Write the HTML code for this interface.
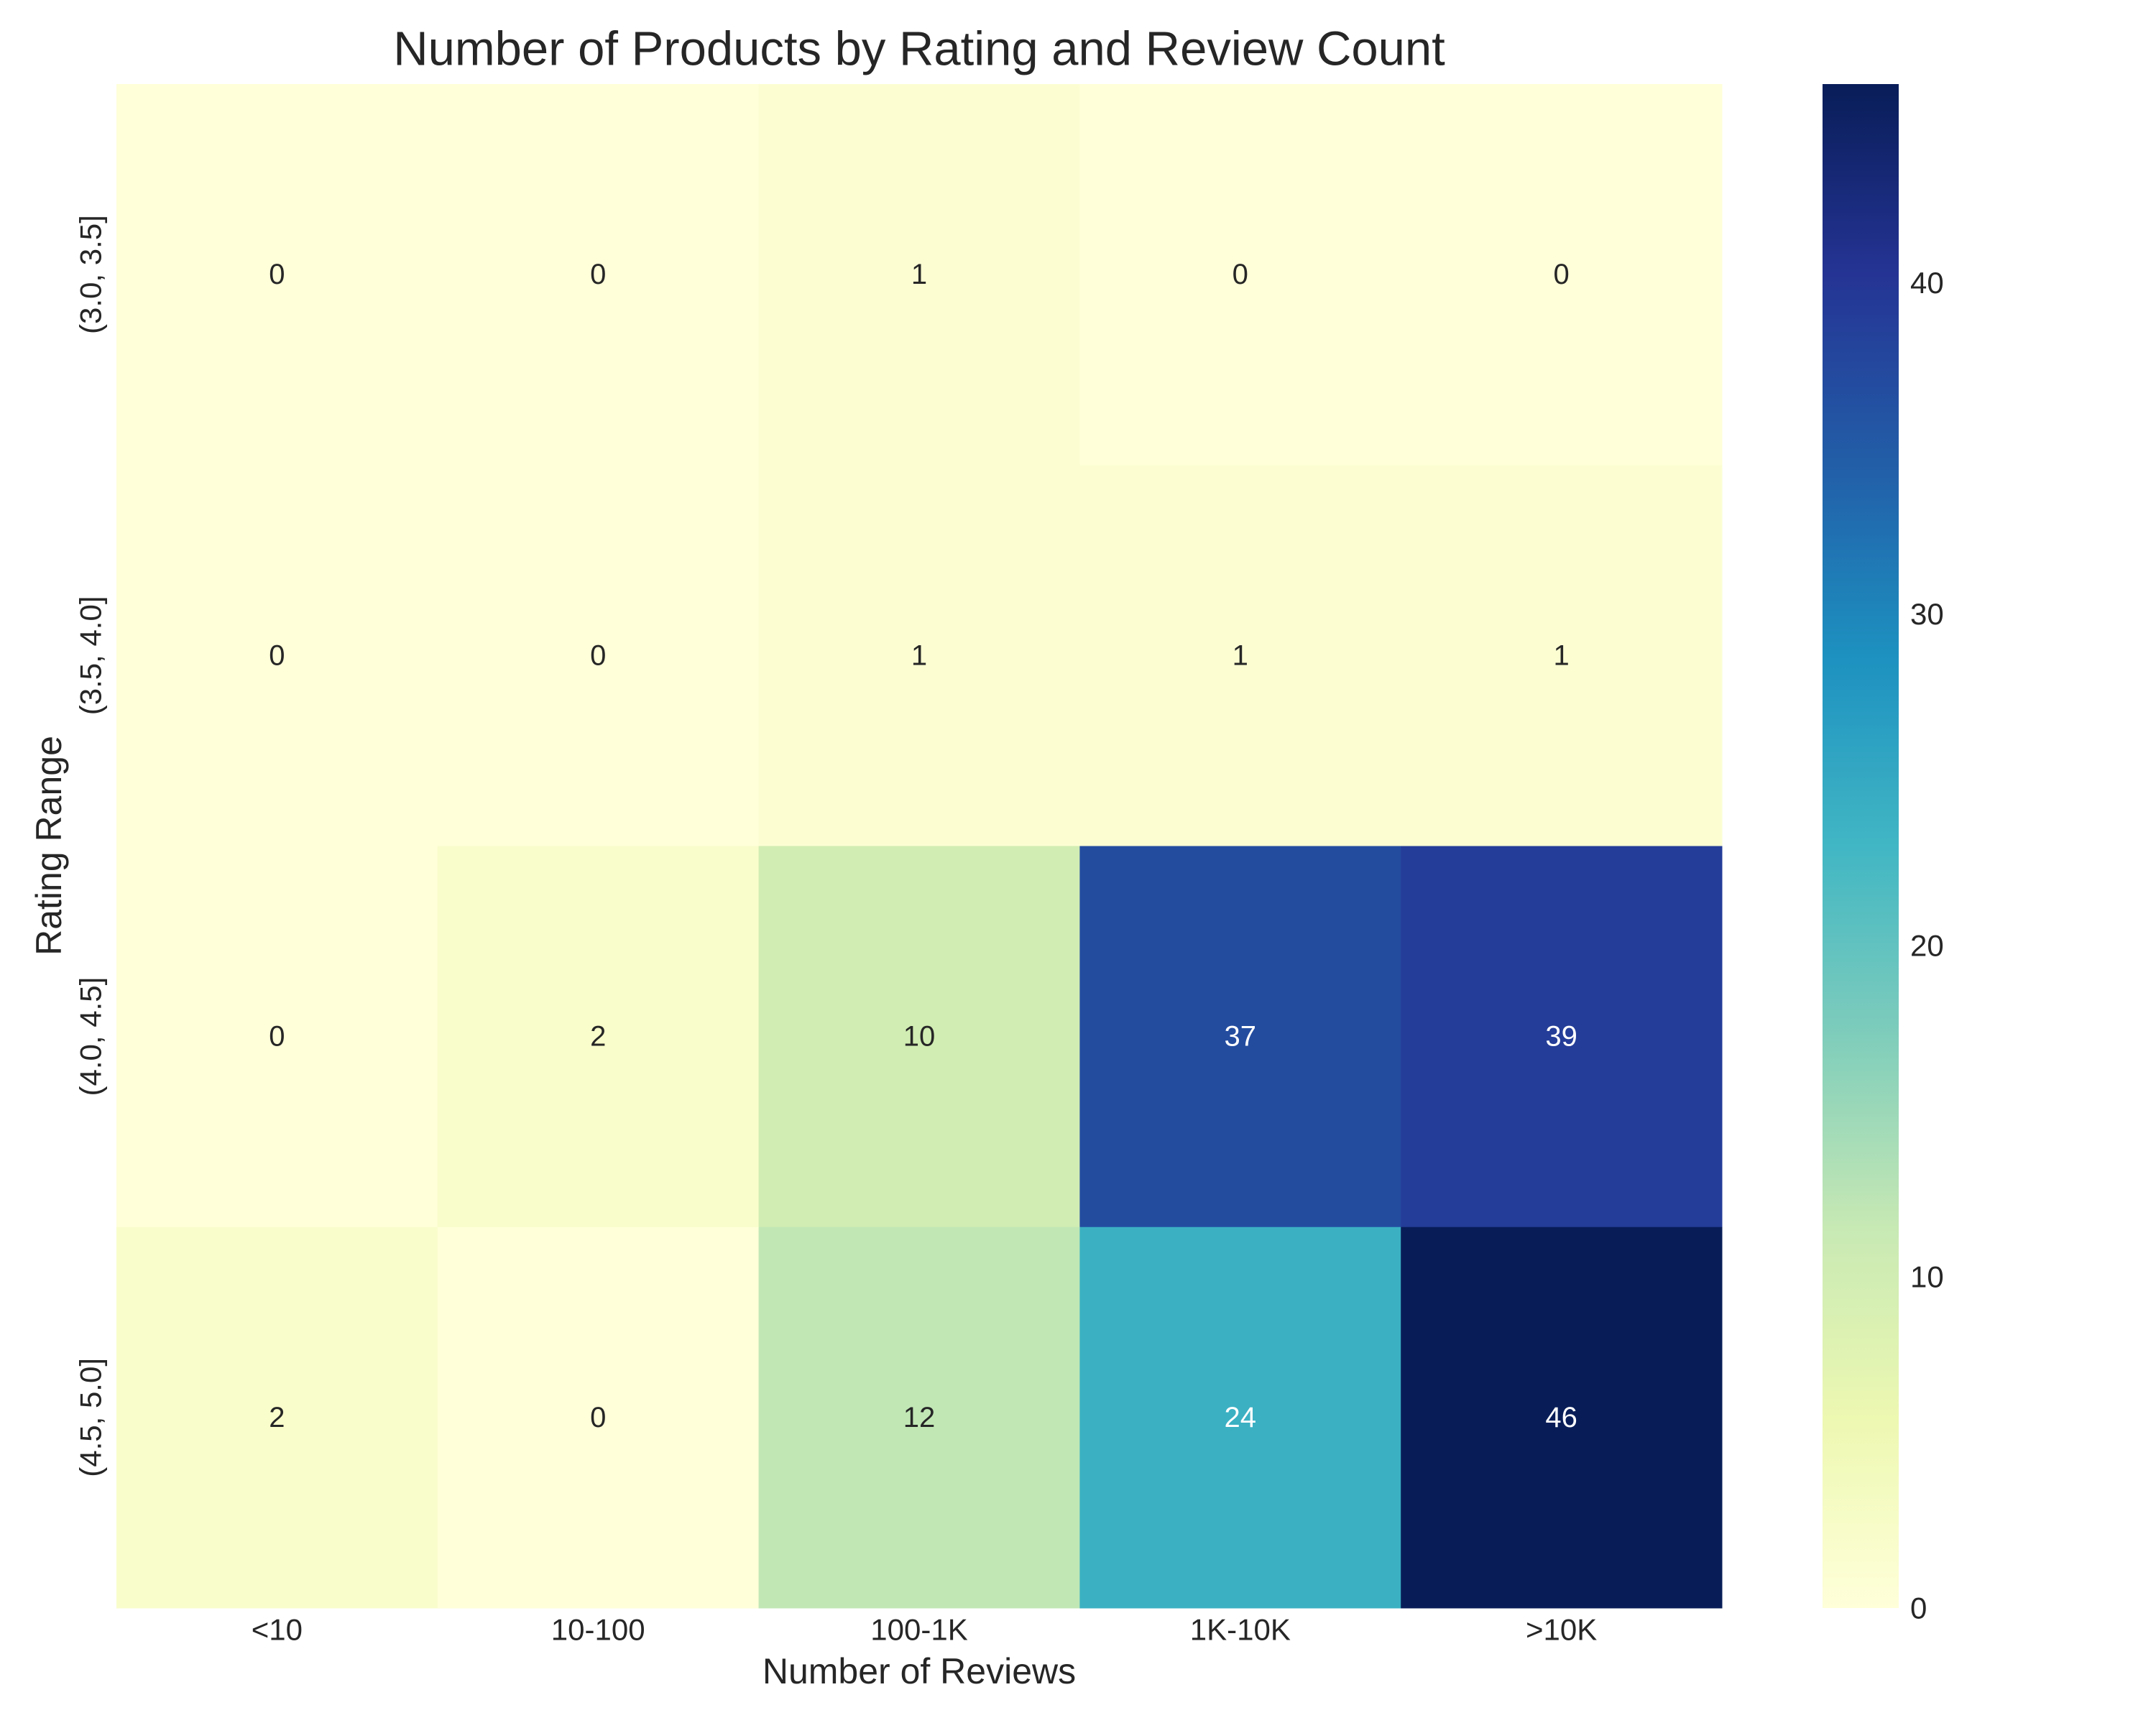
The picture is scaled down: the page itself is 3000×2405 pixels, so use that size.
<!DOCTYPE html>
<html><head><meta charset="utf-8">
<style>
body{margin:0;background:#fff;}
svg text{font-family:"Liberation Sans",Arial,sans-serif;fill:#262626;}
</style></head>
<body>
<svg id="chart" width="3000" height="2400" viewBox="0 0 3000 2400" xmlns="http://www.w3.org/2000/svg">
<text x="1279" y="68" font-size="67" text-anchor="middle" dominant-baseline="central">Number of Products by Rating and Review Count</text>
<g id="cells"></g>
<g id="xticks"></g>
<g id="yticks"></g>
<text x="1279" y="2326" font-size="50" text-anchor="middle" dominant-baseline="central">Number of Reviews</text>
<text x="68" y="1177" font-size="50" text-anchor="middle" dominant-baseline="central" transform="rotate(-90 68 1177)">Rating Range</text>
<defs><linearGradient id="cbgrad" x1="0" y1="1" x2="0" y2="0"></linearGradient></defs>
<rect x="2536" y="117" width="106" height="2121" fill="url(#cbgrad)"/>
<g id="cbticks"></g>
</svg>
<script>
const columns = ["<10","10-100","100-1K","1K-10K",">10K"];
const rows = ["(3.0, 3.5]","(3.5, 4.0]","(4.0, 4.5]","(4.5, 5.0]"];
const row0 = [0,0,1,0,0];
const row1 = [0,0,1,1,1];
const row2 = [0,2,10,37,39];
const row3 = [2,0,12,24,46];
const colorbarTicks = [0,10,20,30,40];
const values = [row0,row1,row2,row3];
const vmin = 0, vmax = Math.max(...values.flat());

const L=162,R=2396,T=117,B=2238;
const cw=(R-L)/columns.length, rh=(B-T)/rows.length;
const xPos=i=>L+i*cw, yPos=j=>T+j*rh;
const stops=["#ffffd9","#edf8b1","#c7e9b4","#7fcdbb","#41b6c4","#1d91c0","#225ea8","#253494","#081d58"];
function hex(h){return [1,3,5].map(i=>parseInt(h.substr(i,2),16));}
function cmap(v){
  let t=(v-vmin)/(vmax-vmin);t=Math.max(0,Math.min(1,t))*(stops.length-1);
  const i=Math.min(Math.floor(t),stops.length-2),f=t-i;
  const a=hex(stops[i]),b=hex(stops[i+1]);
  return a.map((c,k)=>Math.round(c+(b[k]-c)*f));
}
function lum(c){const l=c.map(x=>{x/=255;return x<=0.03928?x/12.92:Math.pow((x+0.055)/1.055,2.4);});return 0.2126*l[0]+0.7152*l[1]+0.0722*l[2];}
const NS="http://www.w3.org/2000/svg";
function mk(tag,attrs,parent){const e=document.createElementNS(NS,tag);for(const k in attrs)e.setAttribute(k,attrs[k]);parent.appendChild(e);return e;}
const cells=document.getElementById('cells');
values.forEach((r,j)=>r.forEach((v,i)=>{
  const c=cmap(v);
  const rect=mk('rect',{x:xPos(i),y:yPos(j),width:cw+0.5,height:rh+0.5,fill:`rgb(${c.join(',')})`},cells);
  
  
  const t=mk('text',{x:xPos(i)+cw/2,y:yPos(j)+rh/2,'font-size':40,'text-anchor':'middle','dominant-baseline':'central'},cells);
  if(lum(c)<=0.408)t.style.fill='#ffffff';
  t.textContent=v;
  
  
}));
const xt=document.getElementById('xticks');
columns.forEach((c,i)=>{
  const t=mk('text',{x:xPos(i)+cw/2,y:2268,'font-size':42,'text-anchor':'middle','dominant-baseline':'central'},xt);
  t.textContent=c;
  
  
});
const yt=document.getElementById('yticks');
rows.forEach((r,j)=>{
  const cy=yPos(j)+rh/2;
  const t=mk('text',{x:126,y:cy,'font-size':42,'text-anchor':'middle','dominant-baseline':'central',transform:`rotate(-90 126 ${cy})`},yt);
  t.textContent=r;
  
  
});
const g=document.getElementById('cbgrad');
for(let k=0;k<=40;k++){const v=vmin+(vmax-vmin)*k/40;mk('stop',{offset:k/40,'stop-color':`rgb(${cmap(v).join(',')})`},g);}
const cbt=document.getElementById('cbticks');
colorbarTicks.forEach(v=>{
  const y=B-(v-vmin)/(vmax-vmin)*(B-T);
  const t=mk('text',{x:2658,y:y,'font-size':42,'dominant-baseline':'central'},cbt);
  t.textContent=v;
  
  
});
</script>
</body></html>
